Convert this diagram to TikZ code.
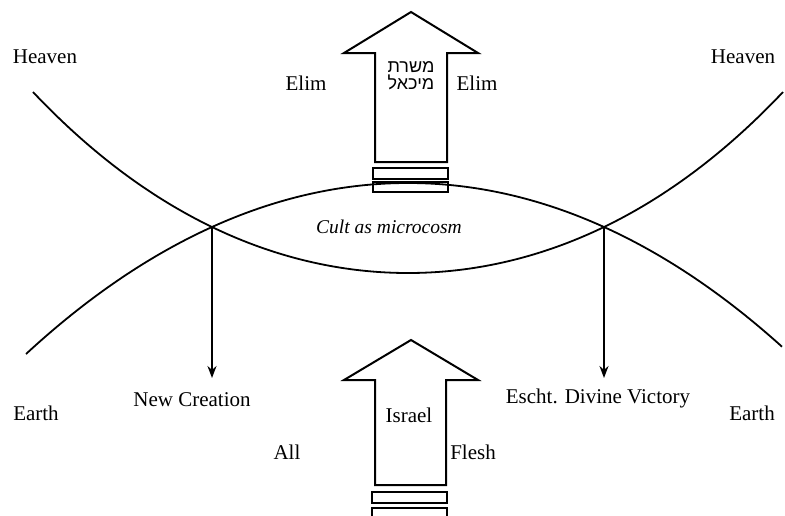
\documentclass[tikz,border=0pt]{standalone}
\usepackage{fontspec}
\setmainfont{Liberation Serif}
\newfontfamily\hebfont[Script=Hebrew]{Liberation Sans}
\TeXXeTstate=1
\usetikzlibrary{arrows.meta}
\begin{document}
\begin{tikzpicture}[x=1pt,y=-1pt,
  lbl/.style={font=\fontsize{21}{24}\selectfont, inner sep=0pt},
  curve/.style={line width=1.8pt},
  blockarrow/.style={line width=2pt, line join=miter},
  plate/.style={line width=1.8pt},
  downarrow/.style={line width=1.8pt, -{Stealth[length=12pt,width=9pt]}}]
\useasboundingbox (0,0) rectangle (785,515);
% heaven / earth curves
\draw[curve] plot[domain=33:783, samples=150, smooth] (\x, {273-11.637*((\x-408)/100)^2-0.0877*((\x-408)/100)^4});
\draw[curve] plot[domain=26:782, samples=150, smooth] (\x, {183+11.36*((\x-408)/100)^2+0.0246*((\x-408)/100)^4});
% intersections and arrow ends
\coordinate (iL) at (212,227);
\coordinate (iR) at (604,227);
\coordinate (tL) at (212,378);
\coordinate (tR) at (604,378);
\draw[downarrow] (iL) -- (tL);
\draw[downarrow] (iR) -- (tR);
% upper block arrow
\draw[blockarrow] (411,12) -- (478,53) -- (447,53) -- (447,162) -- (375,162) -- (375,53) -- (344,53) -- cycle;
\draw[plate] (373,168) rectangle (448,179);
\draw[plate] (373,182) rectangle (448,192);
% lower block arrow
\draw[blockarrow] (411,340) -- (478,380) -- (446,380) -- (446,485) -- (375,485) -- (375,380) -- (344,380) -- cycle;
\draw[plate] (372,492) rectangle (447,503);
\draw[plate] (372,508) rectangle (447,520);
% labels
\node[lbl] (heavenL) at (45,57) {Heaven};
\node[lbl] (heavenR) at (743,57) {Heaven};
\node[lbl] (earthL) at (36,413) {Earth};
\node[lbl] (earthR) at (752,413) {Earth};
\node[lbl] (elimL) at (306,83) {Elim};
\node[lbl] (elimR) at (477,83) {Elim};
\node[lbl] (newc) at (192,400) {New Creation};
\node[lbl] (escht) at (598,398) {Escht. Divine Victory};
\node[lbl] (israel) at (409,415) {Israel};
\node[lbl] (all) at (287,452) {All};
\node[lbl] (flesh) at (473,452) {Flesh};
\node[inner sep=0pt, font=\itshape\fontsize{19.5}{22}\selectfont] (cult) at (389,227) {Cult as microcosm};
\node[inner sep=0pt, align=center, font=\hebfont\fontsize{18}{17}\selectfont] (heb) at (411,76) {\beginR משרת\endR\\\beginR מיכאל\endR};
\end{tikzpicture}
\end{document}
